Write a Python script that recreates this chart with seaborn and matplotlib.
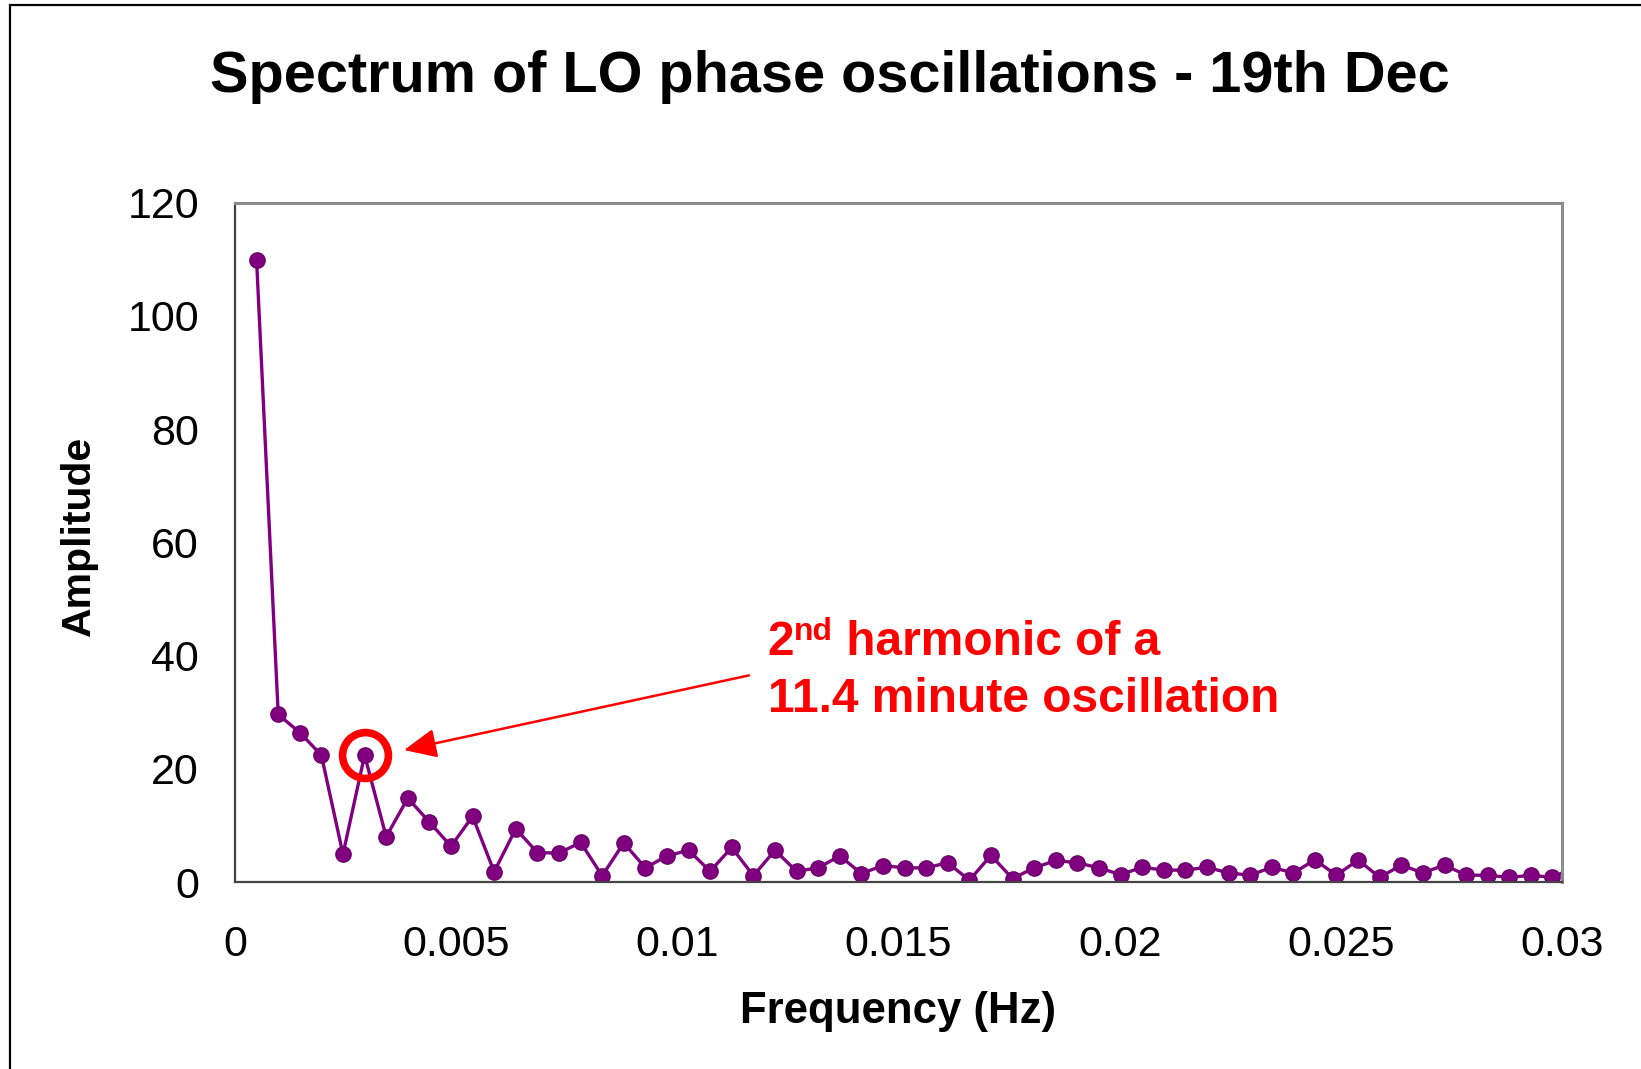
import matplotlib

matplotlib.use("Agg")
import matplotlib.pyplot as plt
from matplotlib.patches import Rectangle
import pandas as pd
import seaborn as sns

# frequency bins (Hz) and spectrum amplitude
freq_hz = [
    0.000488, 0.000977, 0.001465, 0.001953, 0.002441, 0.002930, 0.003418, 0.003906,
    0.004395, 0.004883, 0.005371, 0.005859, 0.006348, 0.006836, 0.007324, 0.007813,
    0.008301, 0.008789, 0.009277, 0.009766, 0.010254, 0.010742, 0.011230, 0.011719,
    0.012207, 0.012695, 0.013184, 0.013672, 0.014160, 0.014648, 0.015137, 0.015625,
    0.016113, 0.016602, 0.017090, 0.017578, 0.018066, 0.018555, 0.019043, 0.019531,
    0.020020, 0.020508, 0.020996, 0.021484, 0.021973, 0.022461, 0.022949, 0.023438,
    0.023926, 0.024414, 0.024902, 0.025391, 0.025879, 0.026367, 0.026855, 0.027344,
    0.027832, 0.028320, 0.028809, 0.029297, 0.029785, 0.030273,
]
amplitude = [
    109.9, 29.6, 26.4, 22.4, 4.9, 22.4, 8.0, 14.8,
    10.6, 6.3, 11.6, 1.8, 9.4, 5.2, 5.1, 7.0,
    1.1, 6.9, 2.5, 4.6, 5.6, 1.9, 6.1, 1.1,
    5.6, 1.9, 2.5, 4.6, 1.5, 2.9, 2.5, 2.5,
    3.4, 0.3, 4.7, 0.6, 2.5, 3.8, 3.4, 2.5,
    1.3, 2.6, 2.1, 2.1, 2.6, 1.6, 1.2, 2.6,
    1.6, 3.9, 1.2, 3.9, 0.8, 3.0, 1.6, 3.0,
    1.2, 1.2, 0.8, 1.2, 0.8, 2.6,
]
x_ticks = [0, 0.005, 0.01, 0.015, 0.02, 0.025, 0.03]
x_tick_labels = ["0", "0.005", "0.01", "0.015", "0.02", "0.025", "0.03"]
y_ticks = [0, 20, 40, 60, 80, 100, 120]

# the highlighted peak and the note pointing at it
peak_freq, peak_amp = 0.002930, 22.4
arrow_tail = (0.01162, 36.5)
arrow_head = (0.00382, 23.3)
note_x = 0.01204
note_line1_y = 40.05
note_line2_y = 30.05

df = pd.DataFrame({"Frequency (Hz)": freq_hz, "Amplitude": amplitude})

sns.set_style("white")
plt.rcParams["font.family"] = ["Liberation Sans", "DejaVu Sans"]
plt.rcParams["text.color"] = "black"
plt.rcParams["axes.labelcolor"] = "black"

fig = plt.figure(figsize=(16.41, 10.69), dpi=100)
ax = fig.add_axes([235 / 1641, 1 - 882 / 1069, 1327 / 1641, 679.3 / 1069])

PURPLE = "#800080"
RED = "#ff0000"

sns.lineplot(
    data=df, x="Frequency (Hz)", y="Amplitude", ax=ax, estimator=None,
    color=PURPLE, linewidth=2.4, marker="o", markersize=11,
    markerfacecolor=PURPLE, markeredgecolor="#6a006a", markeredgewidth=1.0,
)

ax.set_xlim(0, 0.03)
ax.set_ylim(0, 120)
ax.set_xticks(x_ticks)
ax.set_xticklabels(x_tick_labels)
ax.set_yticks(y_ticks)
ax.tick_params(axis="both", direction="out", colors="#333333", labelcolor="black",
               labelsize=31, width=1.3)
ax.tick_params(axis="x", length=9, pad=22)
ax.tick_params(axis="y", length=10, pad=16)

for side in ("left", "bottom"):
    ax.spines[side].set_color("#444444")
    ax.spines[side].set_linewidth(1.6)
for side in ("top", "right"):
    ax.spines[side].set_color("#8c8c8c")
    ax.spines[side].set_linewidth(2.2)

ax.set_xlabel("Frequency (Hz)", fontsize=31.5, fontweight="bold", va="baseline")
ax.xaxis.set_label_coords(0.5, -(1023 - 882) / 679.3)
ax.set_ylabel("Amplitude", fontsize=29.5, fontweight="bold", va="baseline")
ax.yaxis.set_label_coords(-(235 - 90) / 1327, 0.51)

fig.text(830 / 1641, 1 - 92 / 1069, "Spectrum of LO phase oscillations - 19th Dec",
         fontsize=41.5, fontweight="bold", ha="center", va="baseline")

# red ring round the 2nd harmonic point
ax.plot([peak_freq], [peak_amp], marker="o", markersize=33, markerfacecolor="none",
        markeredgecolor=RED, markeredgewidth=5.5, zorder=5)

ax.annotate(
    "", xy=arrow_head, xytext=arrow_tail,
    arrowprops=dict(arrowstyle="-|>,head_length=1.0,head_width=0.45", mutation_scale=20,
                    color=RED, lw=1.8, shrinkA=0, shrinkB=0),
)

note_kw = dict(color=RED, fontweight="bold")
t2 = ax.text(note_x, note_line1_y, "2", fontsize=34.5, ha="left", va="baseline", **note_kw)
t_nd = ax.annotate("nd", xy=(1, 1), xycoords=t2, xytext=(0, 2.5), textcoords="offset points",
                   fontsize=23, ha="left", va="top", **note_kw)
ax.annotate(" harmonic of a", xy=(1, 0), xycoords=(t_nd, t2), fontsize=34.5,
            ha="left", va="bottom", **note_kw)
ax.text(note_x, note_line2_y, "11.4 minute oscillation", fontsize=34.5, ha="left",
        va="baseline", **note_kw)

# chart-area border (runs off the right and bottom edges)
fig.patches.append(Rectangle((10 / 1641, -0.05), 1.2, 1.05 - 5 / 1069, transform=fig.transFigure,
                             fill=False, edgecolor="black", linewidth=1.6))

fig.savefig("out.png", dpi=100)
